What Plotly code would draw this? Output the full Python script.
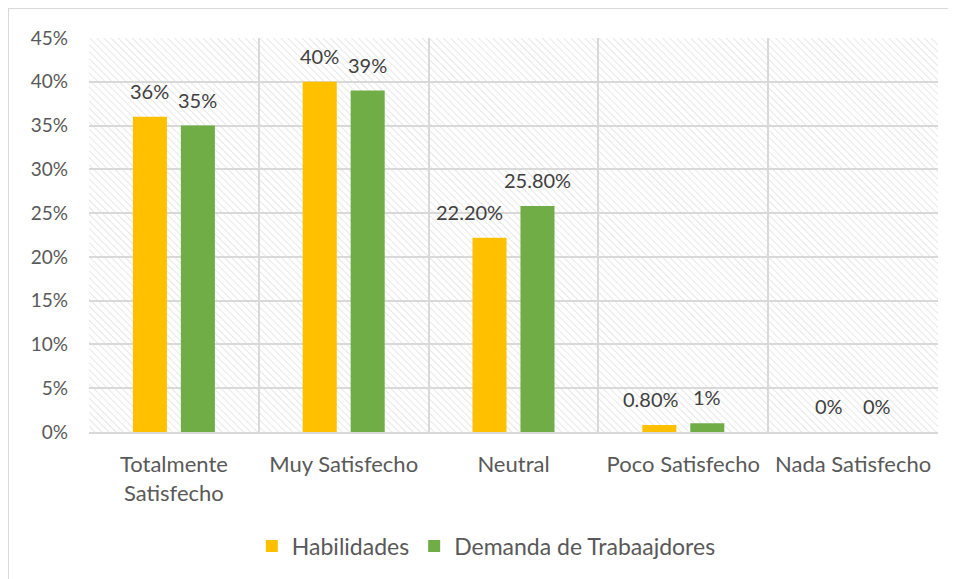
import base64
import plotly.graph_objects as go

categories = ["Totalmente<br>Satisfecho", "Muy Satisfecho", "Neutral", "Poco Satisfecho", "Nada Satisfecho"]
habilidades = [36, 40, 22.2, 0.8, 0]
demanda = [35, 39, 25.8, 1, 0]
habilidades_labels = ["36%", "40%", "22.20%", "0.80%", "0%"]
demanda_labels = ["35%", "39%", "25.80%", "1%", "0%"]
y_ticks = [0, 5, 10, 15, 20, 25, 30, 35, 40, 45]
y_ticklabels = [f"{v}%" for v in y_ticks]

FONT = "Lato, 'Open Sans', sans-serif"
GRAY = "#595959"
LABEL = "#404040"
GRID = "#d9d9d9"

W, H = 948, 571          # page adds an 8px body margin
L, T, PW, PH = 81, 30, 849, 394

# label nudges (pixels) mimicking the reference's collision-avoiding placement
hab_nudge = [0, 0, -20, -8, 0]
dem_nudge = [0, 0, 0, 0, 0]

# hatched plot-area background as an SVG pattern image
svg = (
    f'<svg xmlns="http://www.w3.org/2000/svg" width="{PW}" height="{PH}">'
    '<defs><pattern id="p" width="5" height="5" patternUnits="userSpaceOnUse" '
    'patternTransform="rotate(-45)">'
    '<line x1="0" y1="0" x2="0" y2="5" stroke="#d9d9d9" stroke-width="1.2"/>'
    '</pattern></defs><rect width="100%" height="100%" fill="url(#p)"/></svg>'
)
hatch_src = "data:image/svg+xml;base64," + base64.b64encode(svg.encode()).decode()

fig = go.Figure()
fig.add_trace(go.Bar(
    name="Habilidades", x=categories, y=habilidades,
    marker=dict(color="#ffc000", line=dict(width=0)),
))
fig.add_trace(go.Bar(
    name="Demanda de Trabaajdores", x=categories, y=demanda,
    marker=dict(color="#70ad47", line=dict(width=0)),
))

# data labels placed above each bar via the data coordinates
annotations = []
for vals, labels, dx, nudges in ((habilidades, habilidades_labels, -24, hab_nudge),
                                 (demanda, demanda_labels, 24, dem_nudge)):
    for c, v, t, n in zip(categories, vals, labels, nudges):
        annotations.append(dict(
            x=c, y=v, xref="x", yref="y", text=t, showarrow=False,
            xanchor="center", yanchor="bottom", xshift=dx + n, yshift=12,
            font=dict(size=20, color=LABEL, family=FONT),
        ))

fig.update_layout(
    width=W, height=H,
    margin=dict(l=L, r=W - L - PW, t=T, b=H - T - PH, autoexpand=False),
    paper_bgcolor="white", plot_bgcolor="white",
    barmode="group", bargap=0.435, bargroupgap=0.29,
    font=dict(family=FONT, size=20, color=GRAY),
    xaxis=dict(
        type="category", tickson="boundaries", showgrid=True, gridcolor=GRID, gridwidth=2,
        ticks="", showline=True, linecolor=GRID, linewidth=2,
        tickfont=dict(size=22, color=GRAY, family=FONT), ticklabelstandoff=12,
        zeroline=False, automargin=False,
    ),
    yaxis=dict(
        range=[0, 45], tickvals=y_ticks, ticktext=y_ticklabels, showgrid=True,
        gridcolor=GRID, gridwidth=2, zeroline=False, showline=False, ticks="",
        tickfont=dict(size=19, color=GRAY, family=FONT), ticklabelstandoff=20,
        automargin=False,
    ),
    legend=dict(orientation="h", x=0.468, xanchor="center", y=-0.235, yanchor="top",
                font=dict(size=23, color=GRAY, family=FONT), itemwidth=30,
                traceorder="normal"),
    annotations=annotations,
    images=[dict(source=hatch_src, xref="paper", yref="paper", x=0, y=1,
                 sizex=1, sizey=1, sizing="stretch", xanchor="left", yanchor="top",
                 layer="below")],
)

# outer chart border at the paper edge (right/bottom edges fall outside the view)
fig.add_shape(type="rect", xref="paper", yref="paper",
              x0=-L / PW, x1=1.3, y0=-0.6, y1=1 + T / PH,
              line=dict(color=GRID, width=2), fillcolor="rgba(0,0,0,0)", layer="below")

fig.write_html("out.html")
